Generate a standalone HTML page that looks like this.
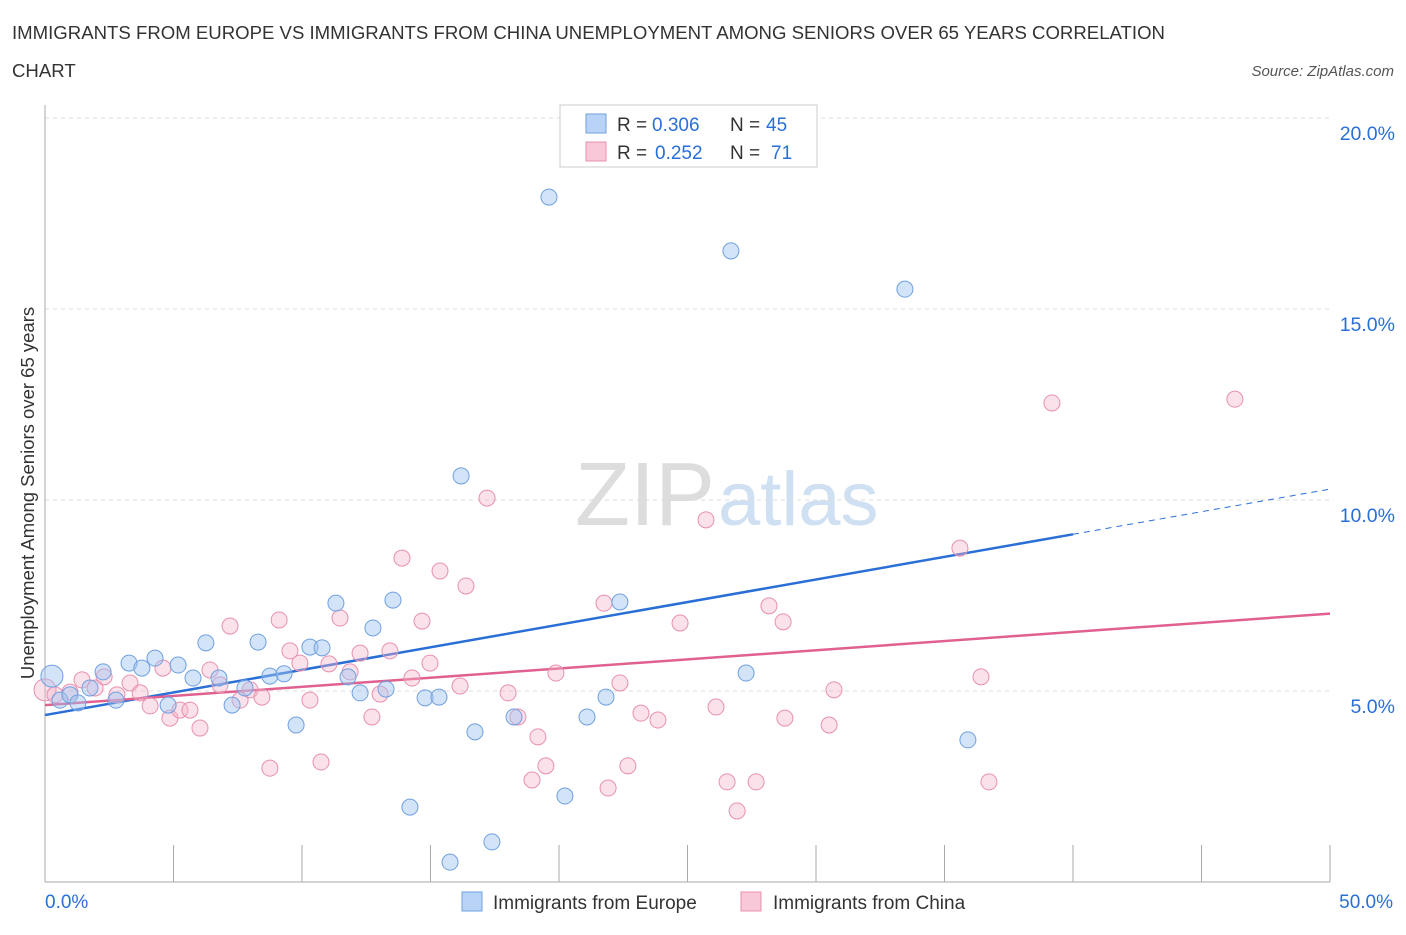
<!DOCTYPE html>
<html><head><meta charset="utf-8"><style>
body{margin:0;background:#fff;font-family:"Liberation Sans",sans-serif;}
svg text{font-family:"Liberation Sans",sans-serif;}
</style></head><body>
<svg id="chart" width="1406" height="930" xmlns="http://www.w3.org/2000/svg">
<text x="12" y="39" font-size="18.6" fill="#333">IMMIGRANTS FROM EUROPE VS IMMIGRANTS FROM CHINA UNEMPLOYMENT AMONG SENIORS OVER 65 YEARS CORRELATION</text>
<text x="12" y="77" font-size="18.6" fill="#333">CHART</text>
<text x="1394" y="76" font-size="15" fill="#555" text-anchor="end" font-style="italic">Source: ZipAtlas.com</text>
<text x="715" y="525" font-size="90" text-anchor="end" fill="#ddd" font-family="Liberation Serif">ZIP</text>
<text x="718" y="525" font-size="76" fill="#cfe0f3">atlas</text>
<g id="grid"></g><g id="axes"></g><g id="lines"></g><g id="pts"></g>
<text transform="translate(34,493) rotate(-90)" font-size="18.5" fill="#333" text-anchor="middle">Unemployment Among Seniors over 65 years</text>
<g>
<rect x="560" y="105" width="257" height="62" fill="#fff" stroke="#ccc"/>
<rect x="586" y="114" width="20" height="19" fill="#b8d3f5" stroke="#6fa0e0"/>
<rect x="586" y="142" width="20" height="19" fill="#f8c8d8" stroke="#e890b0"/>
<text x="617" y="131" font-size="19" fill="#333">R =</text>
<text x="652" y="131" font-size="19" fill="#2a6fd6">0.306</text>
<text x="730" y="131" font-size="19" fill="#333">N =</text>
<text x="766" y="131" font-size="19" fill="#2a6fd6">45</text>
<text x="617" y="159" font-size="19" fill="#333">R =</text>
<text x="655" y="159" font-size="19" fill="#2a6fd6">0.252</text>
<text x="730" y="159" font-size="19" fill="#333">N =</text>
<text x="771" y="159" font-size="19" fill="#2a6fd6">71</text>
</g>
<g>
<rect x="462" y="892" width="20" height="19" fill="#b8d3f5" stroke="#6fa0e0"/>
<text x="493" y="909" font-size="19" fill="#333">Immigrants from Europe</text>
<rect x="741" y="892" width="20" height="19" fill="#f8c8d8" stroke="#e890b0"/>
<text x="773" y="909" font-size="19" fill="#333">Immigrants from China</text>
</g>
</svg>
<script>
const europeX=[0.27,0.58,0.97,1.28,1.75,2.26,2.76,3.27,3.77,4.28,4.79,5.18,5.76,6.26,6.77,7.28,7.78,8.29,8.75,9.30,9.77,10.31,10.78,11.32,11.79,12.26,12.76,13.27,13.54,14.2,14.79,15.33,15.76,16.19,16.73,17.39,18.25,19.61,20.23,21.09,21.83,22.37,26.69,27.28,33.46,35.91];
const europeY=[5.39,4.76,4.90,4.69,5.08,5.50,4.76,5.73,5.60,5.86,4.63,5.68,5.34,6.26,5.34,4.63,5.08,6.28,5.39,5.45,4.11,6.15,6.13,7.30,5.37,4.95,6.65,5.05,7.38,1.96,4.82,4.84,0.52,10.63,3.93,1.05,4.32,17.93,2.25,4.32,4.84,7.33,16.52,5.47,15.52,3.72];
const chinaX=[0.0,0.39,0.97,1.44,1.95,2.30,2.80,3.31,3.70,4.09,4.59,4.86,5.25,5.64,6.03,6.42,6.81,7.20,7.59,7.98,8.44,8.75,9.11,9.53,9.92,10.31,10.74,11.05,11.48,11.87,12.26,12.72,13.04,13.42,13.89,14.28,14.67,14.98,15.37,16.15,16.38,17.20,18.02,18.40,18.95,19.18,19.49,19.88,21.75,21.91,22.37,22.68,23.19,23.85,24.71,25.72,26.11,26.54,26.93,27.67,28.17,28.72,28.79,30.51,30.70,35.60,36.42,36.73,39.18,46.30];
const chinaY=[5.03,4.90,4.97,5.29,5.08,5.37,4.90,5.21,4.95,4.61,5.60,4.29,4.50,4.50,4.03,5.55,5.16,6.70,4.76,5.03,4.84,2.98,6.86,6.05,5.73,4.76,3.14,5.71,6.91,5.50,5.99,4.32,4.92,6.05,8.48,5.34,6.83,5.73,8.14,5.13,7.75,10.05,4.95,4.32,2.67,3.80,3.04,5.47,7.30,2.46,5.21,3.04,4.42,4.24,6.78,9.48,4.58,2.62,1.86,2.62,7.23,6.81,4.29,4.11,5.03,8.74,5.37,2.62,12.54,12.64];
const europeTrend=[4.37,0.1183];
const chinaTrend=[4.63,0.0479];
const yTicks=[5,10,15,20];
const xTickLabels=["0.0%","50.0%"];
const NS="http://www.w3.org/2000/svg";
const sx=v=>45+v*25.7, sy=v=>882-v*38.2;
function mk(p,t,a){const e=document.createElementNS(NS,t);for(const k in a)e.setAttribute(k,a[k]);document.getElementById(p).appendChild(e);return e;}
yTicks.forEach(t=>{
 let l=mk('grid','line',{x1:45,x2:1330,y1:sy(t),y2:sy(t),stroke:'#ddd','stroke-dasharray':'4,4'});
 
 
 let tx=mk('axes','text',{x:1395,y:sy(t)+22,'font-size':19.5,fill:'#2a6fd6','text-anchor':'end'});
 tx.textContent=t.toFixed(1)+'%';
 
 
});
let ax=mk('axes','line',{x1:45,x2:45,y1:105,y2:882,stroke:'#aaa'});


let bx=mk('axes','line',{x1:45,x2:1330,y1:882,y2:882,stroke:'#aaa'});


for(let i=0;i<=10;i++){let t=mk('axes','line',{x1:sx(i*5),x2:sx(i*5),y1:845,y2:882,stroke:'#aaa'});
 
 }
[[0,'start',45],[1,'end',1393]].forEach(([i,a,x])=>{let t=mk('axes','text',{x:x,y:908,'font-size':19,fill:'#2a6fd6','text-anchor':a});t.textContent=xTickLabels[i];
 
 });
function pts(X,Y,fill,st,name){X.forEach((x,i)=>{let c=mk('pts','circle',{cx:sx(x),cy:sy(Y[i]),r:(i==0?11:8),fill:fill,stroke:st,'stroke-width':1});
 
 });}
pts(chinaX,chinaY,'rgba(245,180,200,0.4)','#e890b0','china-point');
pts(europeX,europeY,'rgba(160,196,240,0.45)','#6fa0e0','europe-point');
const f=(tr,x)=>tr[0]+tr[1]*x;
let b1=mk('lines','line',{x1:sx(0),y1:sy(f(europeTrend,0)),x2:sx(40),y2:sy(f(europeTrend,40)),stroke:'#2a6fd6','stroke-width':2.5});


let b2=mk('lines','line',{x1:sx(40),y1:sy(f(europeTrend,40)),x2:sx(50),y2:sy(f(europeTrend,50)),stroke:'#2a6fd6','stroke-width':1,'stroke-dasharray':'6,5'});


let p1=mk('lines','line',{x1:sx(0),y1:sy(f(chinaTrend,0)),x2:sx(50),y2:sy(f(chinaTrend,50)),stroke:'#e06090','stroke-width':2.5});


</script>
</body></html>
